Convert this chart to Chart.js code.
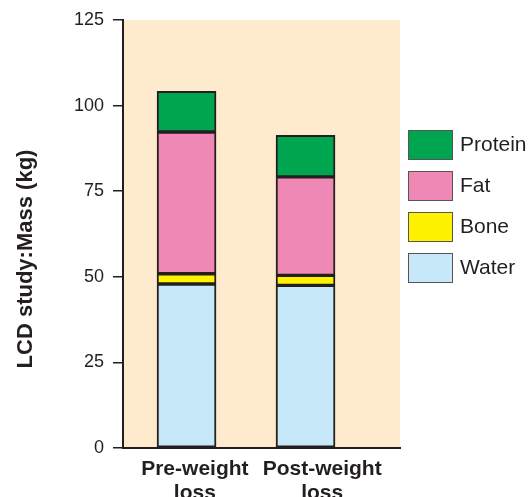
<!DOCTYPE html>
<html>
<head>
<meta charset="utf-8">
<script src="https://cdn.jsdelivr.net/npm/chart.js@4"></script>
<style>
  body { margin: 0; background: #fff; }
</style>
</head>
<body>
<canvas id="chart" width="528" height="497"></canvas>
<script>
// Body composition, LCD study: stacked mass per component (kg)
const CATEGORIES = [['Pre-weight', 'loss'], ['Post-weight', 'loss']];
const X_POS      = [1, 2];
const LABEL_POS  = [1.07, 2.14];   // category labels sit a bit right of the bars
const WATER      = [47.9, 47.5];
const BONE       = [3.0, 2.9];
const FAT        = [41.4, 28.8];
const PROTEIN    = [11.9, 12.1];
const Y_TICKS    = [0, 25, 50, 75, 100, 125];

const INK   = '#231f20';
const FONT  = '"Liberation Sans", Arial, Helvetica, sans-serif';

function pts(values) {
  return values.map((v, i) => ({ x: X_POS[i], y: v }));
}

function ds(label, values, color) {
  return {
    label: label,
    data: pts(values),
    backgroundColor: color,
    borderColor: INK,
    borderWidth: 2,
    borderSkipped: false,
    barThickness: 59
  };
}

// ── plugins ────────────────────────────────────────────────────────────────
const plotBg = {
  id: 'plotBg',
  beforeDraw(chart) {
    const a = chart.chartArea, ctx = chart.ctx;
    ctx.save();
    ctx.fillStyle = '#feebcd';
    ctx.fillRect(a.left, a.top, a.right - a.left, a.bottom - a.top);
    ctx.restore();
  }
};

const sideLegend = {
  id: 'sideLegend',
  afterDraw(chart) {
    const ctx = chart.ctx;
    const items = chart.data.datasets.slice().reverse();
    ctx.save();
    items.forEach((d, i) => {
      const y = 130 + i * 41;
      ctx.fillStyle = d.backgroundColor;
      ctx.fillRect(408, y, 45, 30);
      ctx.strokeStyle = '#555';
      ctx.lineWidth = 1;
      ctx.strokeRect(408.5, y + 0.5, 44, 29);
      ctx.fillStyle = INK;
      ctx.font = '21px ' + FONT;
      ctx.textBaseline = 'middle';
      ctx.fillText(d.label, 460, y + 15);
    });
    ctx.restore();
  }
};

const yTitle = {
  id: 'yTitle',
  afterDraw(chart) {
    const ctx = chart.ctx;
    ctx.save();
    ctx.translate(26, 259);
    ctx.rotate(-Math.PI / 2);
    ctx.fillStyle = INK;
    ctx.font = 'bold 22px ' + FONT;
    ctx.textAlign = 'center';
    ctx.textBaseline = 'middle';
    ctx.fillText('LCD study:Mass (kg)', 0, 0);
    ctx.restore();
  }
};

// ── chart ──────────────────────────────────────────────────────────────────
new Chart(document.getElementById('chart').getContext('2d'), {
  type: 'bar',
  data: {
    datasets: [
      ds('Water',   WATER,   '#c7e8f8'),
      ds('Bone',    BONE,    '#fff200'),
      ds('Fat',     FAT,     '#f088b5'),
      ds('Protein', PROTEIN, '#00a54f')
    ]
  },
  options: {
    responsive: false,
    animation: false,
    devicePixelRatio: 1,
    layout: { padding: { top: 20, right: 128, left: 0, bottom: 0 } },
    plugins: {
      legend: { display: false },
      tooltip: { enabled: false }
    },
    scales: {
      x: {
        type: 'linear',
        stacked: true,
        offset: false,
        bounds: 'data',
        min: 0.466,
        max: 2.794,
        afterBuildTicks: s => { s.ticks = LABEL_POS.map(v => ({ value: v })); },
        afterFit: s => { s.height = 49; },
        grid: { display: false, offset: false },
        border: { display: true, color: INK, width: 2 },
        ticks: {
          color: INK,
          padding: 1,
          maxRotation: 0,
          font: { family: FONT, size: 21, weight: 'bold', lineHeight: 1.15 },
          callback: (v, i) => CATEGORIES[i]
        }
      },
      y: {
        stacked: true,
        min: 0,
        max: 125,
        afterBuildTicks: s => { s.ticks = Y_TICKS.map(v => ({ value: v })); },
        afterFit: s => { s.width = 123; },
        grid: {
          drawOnChartArea: false,
          drawTicks: true,
          tickLength: 10,
          color: INK,
          lineWidth: 1.5
        },
        border: { display: true, color: INK, width: 2 },
        ticks: {
          color: INK,
          padding: 9,
          font: { family: FONT, size: 18 }
        }
      }
    }
  },
  plugins: [plotBg, sideLegend, yTitle]
});
</script>
</body>
</html>
